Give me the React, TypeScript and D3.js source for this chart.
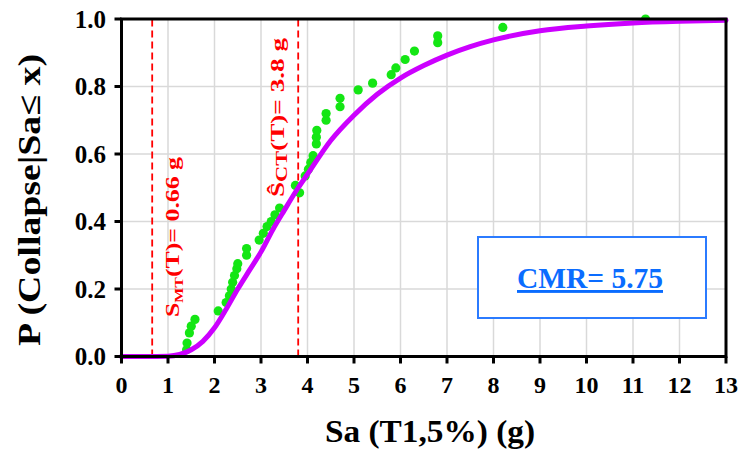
import React from 'react';
import * as d3 from 'd3';

// ---- data ----
const xTickValues = [0, 1, 2, 3, 4, 5, 6, 7, 8, 9, 10, 11, 12, 13];
const yTickValues = [0, 0.2, 0.4, 0.6, 0.8, 1.0];
const yTickLabels = ['0.0', '0.2', '0.4', '0.6', '0.8', '1.0'];

// empirical collapse fractions (green dots)
const pointSa = [
  1.40, 1.41, 1.46, 1.50, 1.58, 2.08, 2.25, 2.32, 2.36, 2.39, 2.43, 2.48, 2.50,
  2.69, 2.69, 2.96, 3.05, 3.13, 3.22, 3.30, 3.40, 3.74, 3.83, 3.95, 4.02, 4.07,
  4.12, 4.19, 4.19, 4.20, 4.40, 4.40, 4.70, 4.70, 5.09, 5.40, 5.80, 5.90, 6.10,
  6.30, 6.80, 6.80, 8.20, 11.27,
];
const pointP = [
  0.02, 0.04, 0.07, 0.09, 0.11, 0.135, 0.16, 0.18, 0.20, 0.22, 0.24, 0.26, 0.275,
  0.30, 0.32, 0.345, 0.365, 0.385, 0.40, 0.42, 0.44, 0.507, 0.485, 0.535, 0.555, 0.575,
  0.595, 0.63, 0.65, 0.67, 0.70, 0.72, 0.74, 0.765, 0.79, 0.81, 0.835, 0.855, 0.88,
  0.905, 0.93, 0.95, 0.975, 1.0,
];

// fitted fragility curve (purple)
const curveSa = [0, 0.5, 1.0, 1.25, 1.5, 1.75, 2.0, 2.25, 2.5, 2.75, 3.0, 3.25, 3.5, 3.8, 4.0, 4.5, 5.0, 5.5, 6.0, 6.5, 7.0, 7.5, 8.0, 9.0, 10.0, 11.0, 12.0, 13.0];
const curveP = [0, 0, 0.001, 0.006, 0.02, 0.045, 0.085, 0.14, 0.2, 0.255, 0.31, 0.375, 0.433, 0.5, 0.54, 0.64, 0.715, 0.777, 0.825, 0.862, 0.893, 0.918, 0.938, 0.965, 0.979, 0.988, 0.993, 0.996];

const smtValue = 0.66;
const sctValue = 3.8;
const cmrText = 'CMR= 5.75';
const xTitle = 'Sa (T1,5%) (g)';
const yTitle = 'P (Collapse|Sa≤ x)';

const FONT = '"Liberation Serif", "Times New Roman", serif';

export default function App() {
  const W = 743;
  const H = 450;
  const left = 121.5, right = 726, top = 19, bottom = 356.5;
  const x = d3.scaleLinear().domain([0, 13]).range([left, right]);
  const y = d3.scaleLinear().domain([0, 1]).range([bottom, top]);

  const curveData: [number, number][] = curveSa.map((s, i) => [s, curveP[i]]);
  const line = d3
    .line<[number, number]>()
    .x((d) => x(d[0]))
    .y((d) => y(d[1]))
    .curve(d3.curveMonotoneX);

  const red = '#ff0000';
  const blue = '#0a6cff';

  return (
    <svg
      width={W}
      height={H}
      style={{ position: 'absolute', left: 0, top: 0, background: '#fff' }}
      fontFamily={FONT}
    >
      <rect x={0} y={0} width={W} height={H} fill="#fff" />
      {/* grid */}
      {xTickValues.map((t) => (
        <line key={'gx' + t} x1={x(t)} x2={x(t)} y1={y(0)} y2={y(1)} stroke="#d9d9d9" strokeWidth={1.5} />
      ))}
      {yTickValues.map((t) => (
        <line key={'gy' + t} x1={x(0)} x2={x(13)} y1={y(t)} y2={y(t)} stroke="#d9d9d9" strokeWidth={1.5} />
      ))}

      {/* CMR box */}
      <rect x={478} y={237} width={228} height={81} fill="#fff" stroke="#2b7bff" strokeWidth={2} />
      <text
        x={517}
        y={288}
        fontSize={29}
        fontWeight="bold"
        fill={blue}
        textDecoration="underline"
        textLength={146}
        lengthAdjust="spacingAndGlyphs"
      >
        {cmrText}
      </text>

      {/* dashed reference lines */}
      {[smtValue, sctValue].map((v) => (
        <line key={'d' + v} x1={x(v)} x2={x(v)} y1={y(0)} y2={y(1)} stroke={red} strokeWidth={1.8} strokeDasharray="7,4" />
      ))}

      {/* labels of the reference lines */}
      <text
        transform={`translate(${179},${317}) rotate(-90)`}
        fontSize={19.5}
        fontWeight="bold"
        fill={red}
        textLength={160}
        lengthAdjust="spacingAndGlyphs"
      >
        S<tspan fontSize={12} dy={4}>MT</tspan>
        <tspan dy={-4}>(T)= {smtValue} g</tspan>
      </text>
      <text
        transform={`translate(${284},${197}) rotate(-90)`}
        fontSize={19.5}
        fontWeight="bold"
        fill={red}
        textLength={159}
        lengthAdjust="spacingAndGlyphs"
      >
        Ŝ<tspan fontSize={16} dy={3}>CT</tspan>
        <tspan dy={-3}>(T)= {sctValue} g</tspan>
      </text>

      {/* points */}
      {pointSa.map((s, i) => (
        <circle key={'p' + i} cx={x(s)} cy={y(pointP[i])} r={4.6} fill="#14e614" />
      ))}

      {/* fitted curve */}
      <path d={line(curveData) || ''} fill="none" stroke="#cc00ff" strokeWidth={5} strokeLinecap="round" />

      {/* frame */}
      <rect x={left} y={top} width={right - left} height={bottom - top} fill="none" stroke="#000" strokeWidth={3} />

      {/* ticks */}
      {xTickValues.map((t) => (
        <line key={'tx' + t} x1={x(t)} x2={x(t)} y1={bottom} y2={bottom + 7} stroke="#000" strokeWidth={3} />
      ))}
      {yTickValues.map((t) => (
        <line key={'ty' + t} x1={left - 7} x2={left} y1={y(t)} y2={y(t)} stroke="#000" strokeWidth={3} />
      ))}

      {/* tick labels */}
      {xTickValues.map((t) => (
        <text key={'lx' + t} x={x(t)} y={393} textAnchor="middle" fontSize={24} fontWeight="bold" fill="#000">
          {t}
        </text>
      ))}
      {yTickValues.map((t, i) => (
        <text key={'ly' + t} x={106} y={y(t)} dy="0.35em" textAnchor="end" fontSize={25} fontWeight="bold" fill="#000">
          {yTickLabels[i]}
        </text>
      ))}

      {/* axis titles */}
      <text
        x={325}
        y={442}
        fontSize={31}
        fontWeight="bold"
        fill="#000"
        textLength={210}
        lengthAdjust="spacingAndGlyphs"
      >
        {xTitle}
      </text>
      <text
        transform={`translate(${40},${346}) rotate(-90)`}
        fontSize={31}
        fontWeight="bold"
        fill="#000"
        textLength={292}
        lengthAdjust="spacingAndGlyphs"
      >
        {yTitle}
      </text>
    </svg>
  );
}
